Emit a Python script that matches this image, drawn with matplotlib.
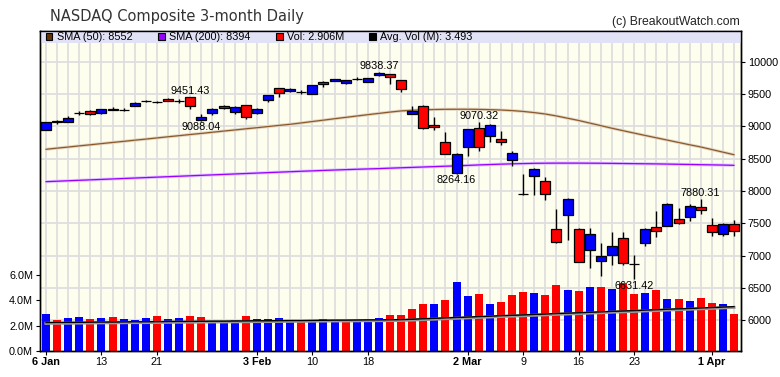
import matplotlib
matplotlib.use("Agg")
import matplotlib.pyplot as plt
from matplotlib.patches import Rectangle
import numpy as np

# ---------------- data ----------------
dates = ["2020-01-06", "2020-01-07", "2020-01-08", "2020-01-09", "2020-01-10",
         "2020-01-13", "2020-01-14", "2020-01-15", "2020-01-16", "2020-01-17",
         "2020-01-21", "2020-01-22", "2020-01-23", "2020-01-24",
         "2020-01-27", "2020-01-28", "2020-01-29", "2020-01-30", "2020-01-31",
         "2020-02-03", "2020-02-04", "2020-02-05", "2020-02-06", "2020-02-07",
         "2020-02-10", "2020-02-11", "2020-02-12", "2020-02-13", "2020-02-14",
         "2020-02-18", "2020-02-19", "2020-02-20", "2020-02-21",
         "2020-02-24", "2020-02-25", "2020-02-26", "2020-02-27", "2020-02-28",
         "2020-03-02", "2020-03-03", "2020-03-04", "2020-03-05", "2020-03-06",
         "2020-03-09", "2020-03-10", "2020-03-11", "2020-03-12", "2020-03-13",
         "2020-03-16", "2020-03-17", "2020-03-18", "2020-03-19", "2020-03-20",
         "2020-03-23", "2020-03-24", "2020-03-25", "2020-03-26", "2020-03-27",
         "2020-03-30", "2020-03-31", "2020-04-01", "2020-04-02", "2020-04-03"]

opens = [8944, 9077, 9068, 9202, 9240, 9212, 9268, 9252, 9316, 9392,
         9370, 9418, 9390, 9448, 9098, 9210, 9320, 9215, 9330,
         9200, 9405, 9588, 9545, 9530, 9498, 9680, 9700, 9665, 9735,
         9685, 9794, 9810, 9717, 9198, 9314, 9020, 8752, 8270,
         8675, 8969, 8850, 8800, 8474, 7957, 8226, 8153, 7406, 7622,
         7406, 7085, 6910, 7003, 7266, 6875, 7198, 7437, 7462, 7560,
         7591, 7746, 7468, 7328, 7484]
highs = [9072, 9092, 9163, 9240, 9245, 9274, 9300, 9290, 9373, 9412,
         9395, 9435, 9425, 9451.43, 9185, 9282, 9330, 9316, 9335,
         9290, 9490, 9590, 9590, 9560, 9640, 9700, 9735, 9720, 9760,
         9750, 9838.37, 9815, 9720, 9315, 9325, 9150, 8907, 8590,
         8958, 9070.32, 9040, 8925, 8622, 8262, 8350, 8210, 7720, 7885,
         7430, 7420, 7190, 7368, 7368, 7007, 7421, 7694, 7810, 7730,
         7795, 7880.31, 7575, 7510, 7545]
lows = [8943, 9043, 9059, 9178, 9168, 9191, 9245, 9235, 9310, 9380,
        9355, 9390, 9365, 9270, 9088.04, 9180, 9265, 9185, 9120,
        9190, 9380, 9455, 9530, 9500, 9495, 9610, 9695, 9650, 9720,
        9680, 9780, 9655, 9535, 9190, 8960, 8949, 8565, 8264.16,
        8545, 8610, 8760, 8706, 8380, 7943, 7937, 7863, 7200, 7240,
        6900, 6800, 6690, 6853, 6860, 6631.42, 7150, 7290, 7455, 7495,
        7540, 7640, 7300, 7300, 7295]
closes = [9071, 9069, 9129, 9205, 9185, 9274, 9252, 9259, 9365, 9399,
          9371, 9392, 9398, 9315, 9139, 9270, 9278, 9305, 9150,
          9275, 9478, 9515, 9575, 9525, 9635, 9648, 9730, 9717, 9738,
          9745, 9820, 9758, 9577, 9236, 8969, 8982, 8566, 8575,
          8952, 8684, 9025, 8750, 8585, 7951, 8344, 7952, 7202, 7875,
          6905, 7335, 6990, 7150, 6880, 6861, 7418, 7384, 7798, 7502,
          7774, 7700, 7361, 7487, 7373]
prev_close = 9021

volume_m = [2.89, 2.42, 2.57, 2.65, 2.50, 2.57, 2.65, 2.50, 2.42, 2.57,
            2.73, 2.50, 2.57, 2.73, 2.65, 2.28, 2.34, 2.42, 2.73,
            2.50, 2.50, 2.57, 2.34, 2.42, 2.26, 2.50, 2.42, 2.42, 2.42,
            2.42, 2.57, 2.81, 2.81, 3.28, 3.68, 3.68, 3.99, 5.41,
            4.31, 4.46, 3.68, 3.83, 4.39, 4.62, 4.54, 4.39, 5.17, 4.78,
            4.70, 5.02, 5.02, 4.86, 5.33, 4.46, 4.54, 4.78, 4.07, 4.07,
            3.91, 4.15, 3.78, 3.68, 2.906]

avg_vol_m = [2.24, 2.25, 2.25, 2.26, 2.27, 2.28, 2.28, 2.29, 2.30, 2.30,
             2.31, 2.32, 2.33, 2.33, 2.34, 2.35, 2.35, 2.36, 2.37,
             2.38, 2.38, 2.39, 2.40, 2.40, 2.41, 2.42, 2.43, 2.43, 2.44,
             2.45, 2.45, 2.46, 2.47, 2.50, 2.54, 2.57, 2.61, 2.64,
             2.67, 2.71, 2.74, 2.78, 2.81, 2.84, 2.88, 2.91, 2.95, 2.98,
             3.01, 3.05, 3.08, 3.12, 3.15, 3.18, 3.22, 3.25, 3.29, 3.32,
             3.35, 3.39, 3.42, 3.46, 3.493]

sma50 = [8644, 8662, 8679, 8697, 8714, 8732, 8750, 8767, 8785, 8802,
         8820, 8838, 8855, 8873, 8890, 8908, 8926, 8943, 8961,
         8978, 8996, 9014, 9031, 9052, 9074, 9095, 9117, 9138, 9159,
         9180, 9200, 9220, 9238, 9248, 9255, 9260, 9263, 9264,
         9264, 9262, 9258, 9252, 9243, 9230, 9212, 9190, 9160, 9125,
         9090, 9050, 9010, 8970, 8932, 8895, 8858, 8822, 8786, 8750,
         8714, 8680, 8640, 8600, 8560]

sma200 = [8143, 8150, 8157, 8164, 8171, 8178, 8185, 8192, 8199, 8206,
          8213, 8220, 8227, 8234, 8241, 8248, 8255, 8262, 8269,
          8276, 8283, 8290, 8297, 8304, 8310, 8317, 8323, 8329, 8335,
          8340, 8345, 8352, 8358, 8364, 8370, 8376, 8382, 8388,
          8395, 8402, 8408, 8414, 8419, 8423, 8427, 8429, 8430, 8430,
          8430, 8429, 8428, 8426, 8424, 8422, 8420, 8418, 8415, 8412,
          8409, 8406, 8403, 8400, 8396]

tick_dates = ["2020-01-06", "2020-01-13", "2020-01-21", "2020-02-03", "2020-02-10",
              "2020-02-18", "2020-03-02", "2020-03-09", "2020-03-16", "2020-03-23",
              "2020-04-01"]
tick_labels = ["6 Jan", "13", "21", "3 Feb", "10", "18", "2 Mar", "9", "16", "23", "1 Apr"]
price_ticks = [6000, 6500, 7000, 7500, 8000, 8500, 9000, 9500, 10000]
vol_ticks = [0, 2, 4, 6]

hi_labels = [("2020-01-24", 9451.43), ("2020-02-19", 9838.37),
             ("2020-03-03", 9070.32), ("2020-03-31", 7880.31)]
lo_labels = [("2020-01-27", 9088.04), ("2020-02-28", 8264.16), ("2020-03-23", 6631.42)]

legend_items = [("#663300", "SMA (50): 8552"), ("#9900ff", "SMA (200): 8394"),
                ("#ff0000", "Vol: 2.906M"), ("#000000", "Avg. Vol (M): 3.493")]

# ---------------- layout ----------------
W, H = 780, 377
L, R, T, B = 40, 741, 31, 351
FONT = "Liberation Sans"
FS = 7.8

fig = plt.figure(figsize=(W / 100, H / 100), dpi=100)
fig.patch.set_facecolor("white")

axp = fig.add_axes([L / W, (H - B) / H, (R - L) / W, (B - T) / H])
axp.set_facecolor("#fefeee")
axv = axp.twinx()
axp.yaxis.tick_right()
axv.yaxis.tick_left()

x = np.arange(len(dates))
n = len(dates)
axp.set_xlim(-0.54, n - 1 + 0.63)
axp.set_ylim(5522, 10475)
axv.set_ylim(0, 25.2)

# grid
axp.set_xticks(x, minor=True)
axp.set_xticks([dates.index(d) for d in tick_dates])
axp.set_xticklabels(tick_labels, fontfamily=FONT, fontsize=FS)
for lab, txt in zip(axp.get_xticklabels(), tick_labels):
    if not txt.isdigit():
        lab.set_fontweight("bold")
axp.set_yticks(price_ticks)
axp.set_yticklabels([str(v) for v in price_ticks], fontfamily=FONT, fontsize=FS)
axp.grid(which="both", axis="x", color="#dedede", lw=1.3)
axp.grid(which="major", axis="y", color="#dedede", lw=1.3)
axp.set_axisbelow(True)
axp.tick_params(axis="x", which="major", length=3, pad=1.5, color="black")
axp.tick_params(axis="x", which="minor", length=0)
axp.tick_params(axis="y", length=3, pad=2)

axv.set_yticks(vol_ticks)
axv.set_yticklabels([f"{v:.1f}M" for v in vol_ticks], fontfamily=FONT, fontsize=FS)
axv.tick_params(axis="y", length=3, pad=2)

for a in (axp, axv):
    for s in a.spines.values():
        s.set_color("black")
        s.set_linewidth(1.0)

# moving averages (price)
axp.plot(x, sma50, color="#e2d5c3", lw=2.2, zorder=1.4, solid_capstyle="butt")
axp.plot(x, sma50, color="#8b5a2b", lw=0.9, zorder=1.5)
axp.plot(x, sma200, color="#dfc2ff", lw=2.2, zorder=1.4, solid_capstyle="butt")
axp.plot(x, sma200, color="#9900ff", lw=0.9, zorder=1.5)

# candles
o = np.array(opens); c = np.array(closes)
axp.vlines(x, lows, highs, color="black", lw=1.0, zorder=2)
body_col = np.where(c >= o, "#0000ff", "#ff0000")
axp.bar(x, np.maximum(np.abs(c - o), 1), bottom=np.minimum(o, c), width=0.9,
        color=body_col, edgecolor="black", linewidth=0.9, zorder=3)

# volume
pc = np.concatenate([[prev_close], c[:-1]])
vol_col = np.where(c >= pc, "#0000ff", "#ff0000")
axv.bar(x, volume_m, width=0.72, color=vol_col, zorder=2)
axv.plot(x, np.array(avg_vol_m) - 0.06, color="#9a9a9a", lw=2.2, zorder=2.2)
axv.plot(x, avg_vol_m, color="black", lw=1.0, zorder=2.3)

# hi / lo labels
for d, v in hi_labels:
    axv.annotate(f"{v:.2f}", xy=(dates.index(d), v), xycoords=axp.transData,
                 xytext=(0, 2), textcoords="offset points", ha="center",
                 va="baseline", fontfamily=FONT, fontsize=FS, zorder=5)
for d, v in lo_labels:
    axv.annotate(f"{v:.2f}", xy=(dates.index(d), v), xycoords=axp.transData,
                 xytext=(0, -1), textcoords="offset points", ha="center",
                 va="top", fontfamily=FONT, fontsize=FS, zorder=5)

# legend band
band_h = 11.5 / (B - T)
axv.add_patch(Rectangle((0, 1 - band_h), 1, band_h, transform=axv.transAxes,
                        facecolor="#e2e2f6", edgecolor="none", zorder=2.4))
leg_x = [45.7, 158, 276, 369]
for (col, txt), px in zip(legend_items, leg_x):
    axv.add_patch(Rectangle(((px - L) / (R - L), (B - 40) / (B - T)),
                            6.5 / (R - L), 7 / (B - T), transform=axv.transAxes,
                            facecolor=col, edgecolor="black", lw=0.8, zorder=2.6))
    axv.text((px + 11 - L) / (R - L), (B - 36.8) / (B - T), txt,
             transform=axv.transAxes, va="center", ha="left",
             fontfamily=FONT, fontsize=FS, zorder=2.7)

# titles
fig.text(50 / W, 1 - 17 / H, "NASDAQ Composite 3-month Daily", fontsize=10.5,
         fontfamily="DejaVu Sans", color="#333333", va="center", ha="left")
fig.text(740 / W, 1 - 22 / H, "(c) BreakoutWatch.com", fontsize=8.8,
         fontfamily=FONT, color="#222222", va="center", ha="right")

fig.savefig("out.png", dpi=100)
